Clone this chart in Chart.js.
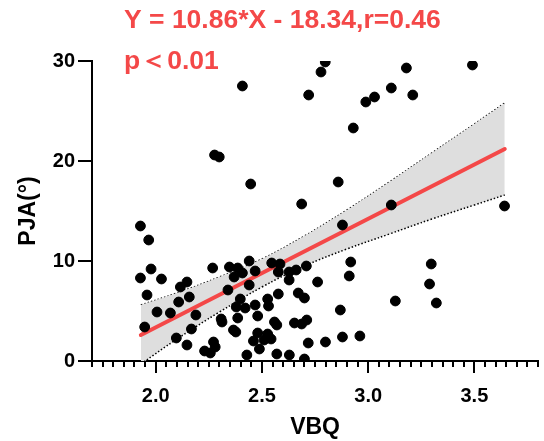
<!DOCTYPE html>
<html>
<head>
<meta charset="utf-8">
<script src="https://cdn.jsdelivr.net/npm/chart.js@4.4.1/dist/chart.umd.min.js"></script>
<style>
  html, body { margin: 0; padding: 0; background: #fff; }
  #chart { display: block; }
</style>
</head>
<body>
<canvas id="chart" width="544" height="441"></canvas>
<script>
// VBQ vs PJA(°)
const vbq = [
  2.408, 2.798, 2.778, 2.720, 3.180, 3.491, 3.109, 3.210, 2.989, 3.030,
  2.930, 2.859, 2.687, 3.109, 3.642, 2.277, 2.299, 2.447, 1.928, 1.967,
  2.879, 1.978, 1.928, 2.027, 1.959, 2.006, 1.948, 2.069, 2.108, 2.116,
  2.147, 2.158, 2.189, 2.168, 2.097, 2.147, 2.230, 2.272, 2.280, 2.257,
  2.268, 2.340, 2.347, 2.386, 2.369, 2.408, 2.440, 2.440, 2.468, 2.398,
  2.379, 2.421, 2.386, 2.308, 2.312, 2.366, 2.377, 2.429, 2.468, 2.480,
  2.460, 2.488, 2.480, 2.510, 2.527, 2.543, 2.527, 2.531, 2.546, 2.585,
  2.577, 2.577, 2.559, 2.570, 2.570, 2.629, 2.628, 2.628, 2.661, 2.671,
  2.700, 2.653, 2.687, 2.711, 2.718, 2.700, 2.709, 2.762, 2.918, 2.911,
  3.297, 3.289, 3.321, 3.128, 2.869, 2.799, 2.879, 2.961
];
const pja = [
  27.5, 29.9, 28.9, 26.6, 29.3, 29.6, 27.3, 26.6, 25.9, 26.4,
  23.3, 17.9, 15.7, 15.6, 15.5, 20.6, 20.4, 17.7, 13.5, 12.1,
  13.6, 9.2, 8.3, 8.2, 6.6, 4.9, 3.4, 4.8, 5.9, 7.4,
  7.9, 6.4, 4.6, 3.2, 2.3, 1.6, 1.0, 1.9, 1.4, 0.8,
  9.3, 7.1, 9.4, 9.3, 8.4, 8.8, 10.0, 7.6, 9.0, 6.2,
  5.4, 5.3, 4.3, 4.2, 3.9, 3.1, 2.9, 0.6, 5.6, 4.5,
  2.0, 1.2, 2.8, 2.1, 2.7, 2.2, 6.2, 5.5, 9.8, 9.7,
  8.9, 6.7, 3.9, 3.6, 0.7, 0.6, 8.1, 8.9, 9.1, 6.8,
  6.3, 3.8, 3.7, 4.1, 1.8, 0.2, 9.5, 7.9, 9.9, 8.5,
  9.7, 7.7, 5.8, 6.0, 5.1, 1.9, 2.4, 2.5
];

// fitted line end points and 95% band
const fitX = [1.93, 3.643];
const fitY = [2.6, 21.2];
const bandX = [1.93, 2.1, 2.3, 2.5, 2.7, 2.9, 3.1, 3.3, 3.5, 3.643];
const bandUpper = [5.6, 6.8, 8.4, 10.2, 12.5, 15.1, 17.9, 20.8, 23.7, 25.8];
const bandLower = [-0.3, 2.2, 4.9, 7.4, 9.5, 11.2, 12.7, 14.2, 15.6, 16.6];

const xTicks = ['2.0', '2.5', '3.0', '3.5'];
const yTicks = [0, 10, 20, 30];

const eqText = 'Y = 10.86*X - 18.34,r=0.46';
const pText = 'p＜0.01';

const red = '#f44848';
const FONT = '"Liberation Sans", Arial, sans-serif';

const toXY = (xs, ys) => xs.map((x, i) => ({ x: x, y: ys[i] }));
const isMajor = (v) => Math.abs(v * 2 - Math.round(v * 2)) < 1e-6 && xTicks.includes(Number(v).toFixed(1));

// axis tick marks: long at labelled values, short in between
const tickMarks = {
  id: 'tickMarks',
  afterDraw(chart) {
    const ctx = chart.ctx;
    const xs = chart.scales.x;
    const ys = chart.scales.y;
    ctx.save();
    ctx.strokeStyle = '#000';
    ctx.lineWidth = 2;
    ctx.beginPath();
    xs.ticks.forEach(t => {
      const px = Math.round(xs.getPixelForValue(t.value));
      ctx.moveTo(px, xs.top);
      ctx.lineTo(px, xs.top + (isMajor(t.value) ? 12 : 6));
    });
    ys.ticks.forEach(t => {
      const py = Math.round(ys.getPixelForValue(t.value));
      ctx.moveTo(ys.right, py);
      ctx.lineTo(ys.right - 14, py);
    });
    ctx.stroke();

    ctx.fillStyle = red;
    ctx.textBaseline = 'middle';
    ctx.textAlign = 'left';
    ctx.font = 'bold 26.5px ' + FONT;
    ctx.fillText(eqText, 124, 21);
    ctx.fillText(pText, 124, 62);
    ctx.restore();
  }
};

new Chart(document.getElementById('chart'), {
  data: {
    datasets: [
      {
        type: 'line',
        label: 'upper',
        data: toXY(bandX, bandUpper),
        borderColor: '#000',
        borderWidth: 1.5,
        borderDash: [1.5, 2],
        pointRadius: 0,
        tension: 0.4,
        fill: false,
        order: 3
      },
      {
        type: 'line',
        label: 'lower',
        data: toXY(bandX, bandLower),
        borderColor: '#000',
        borderWidth: 1.5,
        borderDash: [1.5, 2],
        backgroundColor: '#dedede',
        pointRadius: 0,
        tension: 0.4,
        fill: '-1',
        order: 2
      },
      {
        type: 'line',
        label: 'fit',
        data: toXY(fitX, fitY),
        borderColor: red,
        borderWidth: 4,
        borderCapStyle: 'round',
        pointRadius: 0,
        fill: false,
        order: 1
      },
      {
        type: 'scatter',
        label: 'PJA',
        data: toXY(vbq, pja),
        backgroundColor: '#000',
        borderColor: '#000',
        pointRadius: 4.9,
        pointHoverRadius: 4.9,
        clip: 0,
        order: 0
      }
    ]
  },
  options: {
    responsive: false,
    animation: false,
    layout: { padding: { top: 61, right: 3, bottom: 0, left: 0 } },
    plugins: {
      legend: { display: false },
      tooltip: { enabled: false }
    },
    scales: {
      x: {
        type: 'linear',
        min: 1.7,
        max: 3.8,
        afterFit: (scale) => {
          scale.height = 80;
          scale.paddingLeft = 0;
          scale.paddingRight = 0;
        },
        grid: { display: false, drawTicks: false },
        border: { display: true, color: '#000', width: 2 },
        ticks: {
          stepSize: 0.05,
          autoSkip: false,
          maxRotation: 0,
          padding: 23,
          color: '#000',
          font: { family: FONT, size: 20, weight: 'bold' },
          callback: (v) => isMajor(v) ? Number(v).toFixed(1) : ''
        },
        title: {
          display: true,
          text: 'VBQ',
          color: '#000',
          font: { family: FONT, size: 23, weight: 'bold' },
          padding: { top: 0, bottom: 0 }
        }
      },
      y: {
        type: 'linear',
        min: 0,
        max: 30,
        afterFit: (scale) => {
          scale.width = 92;
          scale.paddingTop = 0;
          scale.paddingBottom = 0;
        },
        grid: { display: false, drawTicks: false },
        border: { display: true, color: '#000', width: 2 },
        ticks: {
          stepSize: 10,
          padding: 17,
          color: '#000',
          font: { family: FONT, size: 20, weight: 'bold' },
          callback: (v) => yTicks.includes(v) ? String(v) : ''
        },
        title: {
          display: true,
          text: 'PJA(°)',
          color: '#000',
          font: { family: FONT, size: 23, weight: 'bold' },
          padding: { top: 15, bottom: 0 }
        }
      }
    }
  },
  plugins: [tickMarks]
});
</script>
</body>
</html>
